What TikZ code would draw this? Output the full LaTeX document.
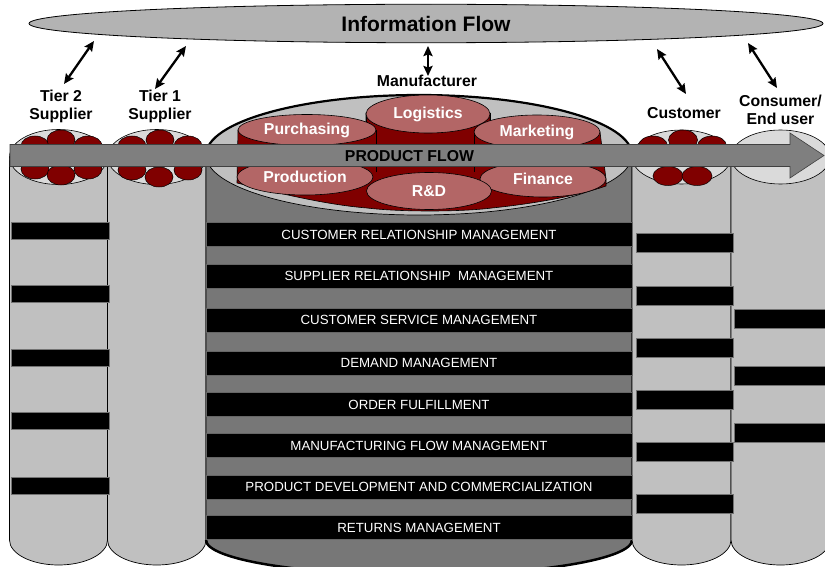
\documentclass[tikz,border=0pt]{standalone}
\usepackage{fontspec}
\setmainfont{Liberation Sans}
\usetikzlibrary{shapes.geometric,arrows.meta}

\definecolor{flowgray}{HTML}{B3B3B3}
\definecolor{colbody}{HTML}{C0C0C0}
\definecolor{coltop}{HTML}{DADADA}
\definecolor{mfgbody}{HTML}{777777}
\definecolor{mfgtop}{HTML}{C0C0C0}
\definecolor{arrowgray}{HTML}{7F7F7F}
\definecolor{deepred}{HTML}{800000}
\definecolor{rose}{HTML}{B36666}

\begin{document}
\begin{tikzpicture}[x=1pt,y=-1pt,
  lbl/.style={font=\fontsize{15.8}{18}\selectfont\bfseries, align=center, inner sep=0pt},
  procband/.style={rectangle, fill=black, draw=black!60, line width=0.4pt,
    minimum width=426pt, minimum height=24pt, inner sep=0pt,
    text=white, font=\fontsize{13.3}{15}\selectfont},
  colbar/.style={fill=black, draw=black!55, line width=0.4pt},
  colside/.style={fill=colbody, draw=black, line width=0.7pt},
  coltopst/.style={fill=coltop, draw=black, line width=0.6pt},
  dept/.style={ellipse, draw=black, line width=0.6pt, fill=rose, text=white,
    font=\fontsize{15.8}{18}\selectfont\bfseries, inner sep=0pt},
  unit/.style={fill=deepred, draw=black, line width=0.5pt},
  link/.style={{Stealth[length=10pt,width=9pt,inset=1.5pt]}-{Stealth[length=10pt,width=9pt,inset=1.5pt]}, line width=2.3pt},
]
\useasboundingbox (0,0) rectangle (825,567);
\clip (0,0) rectangle (825,567);
\fill[white] (0,0) rectangle (825,567);

% ---- information flow band ----
\node[ellipse, draw=black, line width=0.8pt, fill=flowgray, minimum width=794pt,
      minimum height=38.5pt, inner sep=0pt,
      font=\fontsize{21}{24}\selectfont\bfseries] (info) at (426,23.5) {Information Flow};

% ---- supplier columns ----
\draw[colside] (9.5,157) -- (9.5,540) arc[start angle=180,end angle=0,x radius=49,y radius=25] -- (107.5,157);
\draw[coltopst] (58.5,157) ellipse[x radius=49, y radius=27.5];
\draw[colside] (107.5,157) -- (107.5,540) arc[start angle=180,end angle=0,x radius=49.25,y radius=25] -- (206,157);
\draw[coltopst] (156.75,157) ellipse[x radius=49.25, y radius=27.5];

% ---- manufacturer cylinder ----
\draw[fill=mfgbody, draw=black, line width=0.7pt] (206,155) -- (206,540)
  arc[start angle=180,end angle=0,x radius=213,y radius=35] -- (632,155);
\draw[line width=2.5pt] (206,540) arc[start angle=180,end angle=0,x radius=213,y radius=35];
\draw[fill=mfgtop, draw=black, line width=0.7pt] (419,155) ellipse[x radius=213, y radius=60];
\draw[line width=2.2pt] (206,155) arc[start angle=180,end angle=360,x radius=213,y radius=60];

% ---- customer and consumer columns ----
\draw[colside] (632,157) -- (632,540) arc[start angle=180,end angle=0,x radius=49.5,y radius=25] -- (731,157);
\draw[coltopst] (681.5,157) ellipse[x radius=49.5, y radius=27];
\draw[colside] (731,157) -- (731,540) arc[start angle=180,end angle=0,x radius=49.5,y radius=25] -- (830,157);
\draw[coltopst] (780.5,157) ellipse[x radius=49.5, y radius=27];

% ---- bars on the side columns ----
\foreach \t in {222,285,349,412,477}
  \draw[colbar] (11,\t) rectangle (109,\t+17);
\foreach \t in {233,286,338,390,442,494}
  \draw[colbar] (636,\t) rectangle (733,\t+19);
\foreach \t in {309,366,423}
  \draw[colbar] (734,\t) rectangle (828,\t+19);

% ---- business processes ----
\node[procband] (crm) at (419,234.5) {CUSTOMER RELATIONSHIP MANAGEMENT};
\node[procband] (srm) at (419,276) {SUPPLIER RELATIONSHIP\ \ MANAGEMENT};
\node[procband] (csm) at (419,320) {CUSTOMER SERVICE MANAGEMENT};
\node[procband] (dem) at (419,363) {DEMAND MANAGEMENT};
\node[procband] (ofu) at (419,404.5) {ORDER FULFILLMENT};
\node[procband] (mfm) at (419,445.5) {MANUFACTURING FLOW MANAGEMENT};
\node[procband] (pdc) at (419,487) {PRODUCT DEVELOPMENT AND COMMERCIALIZATION};
\node[procband] (ret) at (419,527.5) {RETURNS MANAGEMENT};

% ---- functional ring inside the manufacturer ----
\draw[fill=deepred, draw=black, line width=0.6pt]
  (238,130) -- (237,183) .. controls (290,196) and (330,205) .. (367,208)
  .. controls (400,212) and (460,212) .. (492,208)
  .. controls (540,203) and (580,195) .. (606,186)
  -- (606,179) -- (600,132) -- (490,132) -- (490,113) -- (366,113) -- (366,130) -- cycle;
\draw[line width=0.6pt] (366,113) -- (366,128) (490,113) -- (490,128)
  (376,130) -- (376,172) (474,132) -- (474,172);

\node[dept, minimum width=124pt, minimum height=38pt] (logistics) at (428,114) {Logistics};
\node[dept, minimum width=138pt, minimum height=31pt] (purchasing) at (307,130) {Purchasing};
\node[dept, minimum width=126pt, minimum height=34pt] (marketing) at (537,132) {Marketing};
\node[dept, minimum width=136pt, minimum height=36pt] (production) at (305,177) {Production};
\node[dept, minimum width=126pt, minimum height=36pt] (finance) at (543,179) {Finance};
\node[dept, minimum width=125pt, minimum height=37pt] (rnd) at (429,191) {R\&D};

% ---- units inside the supplier and customer columns ----
\foreach \x/\y in {35/146, 88/146, 61/140, 35/169, 88/169, 61/175}
  \draw[unit] (\x,\y) ellipse[x radius=14, y radius=10];
\foreach \x/\y in {132/146, 188/146, 160/140, 132/170, 188/170, 159/177}
  \draw[unit] (\x,\y) ellipse[x radius=14, y radius=10];
\foreach \x/\y in {653/146, 712/146, 683/140}
  \draw[unit] (\x,\y) ellipse[x radius=14.5, y radius=10];
\foreach \x/\y in {668/176, 697/176}
  \draw[unit] (\x,\y) ellipse[x radius=15, y radius=9.5];

% ---- product flow arrow ----
\draw[fill=arrowgray, draw=black!75, line width=0.6pt]
  (10,144.5) -- (790,144.5) -- (790,133) -- (824,155.5) -- (790,178) -- (790,166.5) -- (10,166.5) -- cycle;
\node[lbl] (flow) at (409.5,156) {PRODUCT FLOW};

% ---- member labels ----
\node[lbl] (tier2) at (61,106.5) {Tier 2\\Supplier};
\node[lbl] (tier1) at (160,106.5) {Tier 1\\Supplier};
\node[lbl] (mfr) at (427,81) {Manufacturer};
\node[lbl] (cust) at (684,113) {Customer};
\node[lbl] (cons) at (780.5,110) {Consumer/\\End user};

% ---- information links ----
\coordinate (t2i) at (94,41);   \coordinate (t2m) at (64,84);
\coordinate (t1i) at (186,46);  \coordinate (t1m) at (155,89);
\coordinate (mfi) at (428,46);  \coordinate (mfm2) at (428,76);
\coordinate (cui) at (657,49);  \coordinate (cum) at (686,94);
\coordinate (coi) at (748,43);  \coordinate (com) at (777,88);
\draw[link] (t2i) -- (t2m);
\draw[link] (t1i) -- (t1m);
\draw[link] (mfi) -- (mfm2);
\draw[link] (cui) -- (cum);
\draw[link] (coi) -- (com);
\end{tikzpicture}
\end{document}
